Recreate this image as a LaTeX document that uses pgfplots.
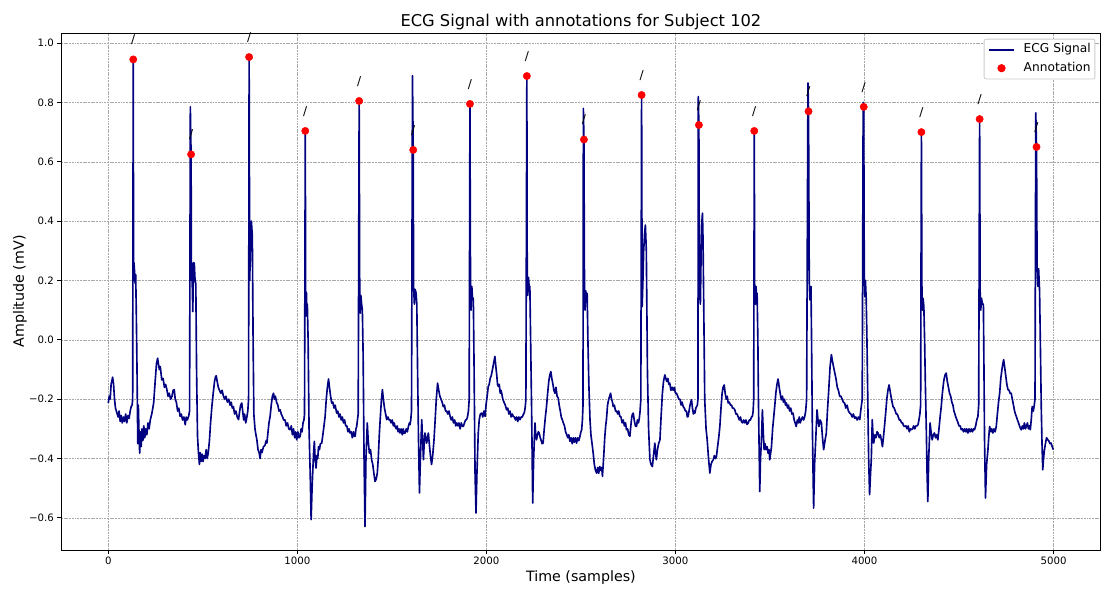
\documentclass[border=0pt]{standalone}
\usepackage{pgfplots}
\pgfplotsset{compat=1.18}
\usepackage{fontspec}
\setmainfont{DejaVu Sans}
\definecolor{navy}{RGB}{0,0,128}
\definecolor{gridgray}{RGB}{170,170,170}
\definecolor{legframe}{RGB}{204,204,204}
\pgfplotsset{
  mylinelegend/.style={legend image code/.code={\draw[##1] (0bp,0bp) -- (24.5bp,0bp); \path[draw=none, fill=none] (0bp,0bp) -- (34bp,0bp);}},
  mydotlegend/.style={legend image code/.code={\path[##1, only marks] plot coordinates {(12.25bp,0bp)}; \path[draw=none, fill=none] (0bp,0bp) -- (34bp,0bp);}},
}
\begin{document}
\begin{tikzpicture}
\begin{axis}[
  at={(0,0)}, anchor=south west,
  scale only axis, width=14.143in, height=7.031in,
  xmin=-250, xmax=5250, ymin=-0.708, ymax=1.034,
  xtick={0,1000,2000,3000,4000,5000},
  xticklabels={0,1000,2000,3000,4000,5000},
  ytick={-0.6,-0.4,-0.2,0,0.2,0.4,0.6,0.8,1.0},
  yticklabels={−0.6,−0.4,−0.2,0.0,0.2,0.4,0.6,0.8,1.0},
  tick pos=left,
  tick align=outside, major tick length=3.5bp,
  every tick/.style={black, line width=0.8bp},
  tick label style={font=\fontsize{10}{12}\selectfont},
  axis line style={black, line width=0.8bp},
  grid=major,
  major grid style={gridgray, line width=0.5bp, dash pattern=on 1.85bp off 0.8bp},
  title={ECG Signal with annotations for Subject 102},
  title style={font=\fontsize{16}{19}\selectfont, at={(axis description cs:0.5,1)}, anchor=base, inner sep=0pt},
  xlabel={Time (samples)},
  xlabel style={font=\fontsize{14}{17}\selectfont, at={(axis description cs:0.5,0)}, anchor=north, yshift=-20.5bp, inner sep=0pt},
  ylabel={Amplitude (mV)},
  ylabel style={font=\fontsize{14}{17}\selectfont, at={(axis description cs:-0.0327,0.5)}, anchor=south, inner sep=0pt},
  legend style={at={(axis description cs:0.9947,0.989)}, anchor=north east, draw=legframe, line width=0.8bp, rounded corners=2bp, fill=white, font=\fontsize{12}{14}\selectfont, row sep=6bp, inner xsep=4bp, inner ysep=4.5bp, nodes={inner xsep=0bp, inner ysep=0bp, text height=9bp, text depth=3bp}},
  legend cell align=left,
  clip=false,
]
\addplot[navy, line width=1.6bp, line join=round, mylinelegend] coordinates {
(0,-0.213) (5,-0.19) (10,-0.20) (15,-0.15) (23,-0.126) (28,-0.15) (33,-0.20) (38,-0.23) (46,-0.247) (52,-0.26) (57,-0.24) (63,-0.275) (68,-0.255) (74,-0.28) (80,-0.26) (86,-0.275) (92,-0.25) (98,-0.28) (104,-0.255) (110,-0.265) (116,-0.24) (121,-0.225) (126,-0.22) (129,-0.2)
(132,0.945) (134,0.20) (136,0.26) (139,0.23) (142,0.19) (145,0.22) (148,0.10) (152,-0.10) (156,-0.35) (159,-0.22) (162,-0.30) (166,-0.382) (170,-0.31) (174,-0.36) (178,-0.30) (183,-0.34) (188,-0.29) (193,-0.33) (198,-0.30) (204,-0.32) (210,-0.28) (216,-0.30) (222,-0.27) (230,-0.25) (240,-0.213) (248,-0.14) (255,-0.08) (261,-0.062) (265,-0.08) (270,-0.10) (275,-0.09) (283,-0.135) (290,-0.13) (297,-0.16) (303,-0.15) (310,-0.168) (316,-0.19) (322,-0.18) (330,-0.20) (337,-0.19) (343,-0.17) (349,-0.168) (354,-0.20) (360,-0.21) (367,-0.24) (373,-0.23) (380,-0.258) (386,-0.25) (393,-0.27) (400,-0.26) (407,-0.286) (412,-0.26) (418,-0.27) (425,-0.258) (430,-0.24)
(434,0.785) (438,0.625) (440,0.20) (442,0.258) (447,0.095) (451,0.26) (455,0.258) (459,0.20) (463,0.19) (467,-0.10) (472,-0.325) (477,-0.38) (482,-0.42) (486,-0.38) (491,-0.41) (496,-0.385) (501,-0.41) (506,-0.39) (512,-0.40) (518,-0.37) (523,-0.40) (529,-0.38) (535,-0.34) (541,-0.28) (548,-0.225) (555,-0.18) (562,-0.14) (567,-0.125) (571,-0.121) (576,-0.14) (582,-0.16) (588,-0.17) (595,-0.18) (602,-0.17) (609,-0.19) (616,-0.20) (622,-0.19) (630,-0.21) (637,-0.20) (644,-0.22) (650,-0.21) (656,-0.23) (662,-0.225) (668,-0.25) (675,-0.24) (682,-0.26) (689,-0.269) (695,-0.24) (700,-0.22) (706,-0.213) (711,-0.24) (716,-0.27) (721,-0.25) (727,-0.28) (733,-0.26) (738,-0.24) (742,-0.20)
(745,0.953) (748,0.20) (752,0.30) (757,0.40) (762,0.35) (766,0.0) (770,-0.25) (776,-0.30) (781,-0.32) (786,-0.337) (792,-0.37) (798,-0.38) (803,-0.40) (808,-0.37) (813,-0.38) (821,-0.36) (829,-0.355) (835,-0.34) (839,-0.348) (845,-0.31) (850,-0.28) (856,-0.258) (862,-0.22) (868,-0.19) (874,-0.18) (879,-0.20) (884,-0.19) (890,-0.21) (897,-0.22) (903,-0.24) (909,-0.236) (915,-0.25) (922,-0.26) (928,-0.27) (935,-0.27) (941,-0.29) (948,-0.28) (955,-0.30) (962,-0.303) (968,-0.29) (974,-0.32) (980,-0.30) (986,-0.33) (991,-0.31) (997,-0.337) (1003,-0.31) (1009,-0.33) (1015,-0.325) (1020,-0.30) (1025,-0.31) (1030,-0.28) (1035,-0.27) (1038,-0.25)
(1042,0.704) (1044,0.17) (1046,0.08) (1048,0.16) (1050,0.11) (1053,0.12) (1057,0.0) (1062,-0.30) (1068,-0.45) (1073,-0.606) (1078,-0.50) (1082,-0.438) (1086,-0.38) (1090,-0.342) (1094,-0.40) (1099,-0.432) (1104,-0.39) (1108,-0.40) (1112,-0.36) (1117,-0.37) (1122,-0.35) (1129,-0.348) (1135,-0.32) (1141,-0.29) (1147,-0.258) (1153,-0.20) (1159,-0.16) (1165,-0.132) (1170,-0.16) (1176,-0.19) (1182,-0.213) (1188,-0.21) (1194,-0.23) (1200,-0.22) (1208,-0.247) (1214,-0.24) (1220,-0.26) (1226,-0.25) (1232,-0.27) (1238,-0.26) (1244,-0.28) (1250,-0.27) (1256,-0.29) (1262,-0.29) (1268,-0.31) (1274,-0.30) (1279,-0.314) (1285,-0.31) (1291,-0.33) (1297,-0.31) (1302,-0.325) (1306,-0.325) (1310,-0.30) (1314,-0.292) (1318,-0.27) (1322,-0.25)
(1327,0.805) (1330,0.16) (1333,0.09) (1336,0.15) (1340,0.12) (1344,0.10) (1348,-0.05) (1353,-0.404) (1358,-0.629) (1363,-0.40) (1370,-0.28) (1375,-0.34) (1381,-0.382) (1387,-0.37) (1393,-0.404) (1399,-0.42) (1405,-0.45) (1411,-0.477) (1417,-0.47) (1423,-0.449) (1428,-0.40) (1434,-0.314) (1440,-0.25) (1445,-0.20) (1450,-0.168) (1455,-0.20) (1461,-0.23) (1467,-0.25) (1473,-0.269) (1479,-0.26) (1485,-0.27) (1490,-0.269) (1496,-0.28) (1502,-0.27) (1508,-0.29) (1512,-0.28) (1517,-0.292) (1523,-0.30) (1528,-0.29) (1533,-0.31) (1538,-0.30) (1543,-0.314) (1549,-0.30) (1555,-0.32) (1560,-0.30) (1565,-0.315) (1570,-0.314) (1576,-0.30) (1582,-0.31) (1588,-0.29) (1593,-0.28) (1596,-0.286) (1600,-0.27) (1604,-0.24)
(1609,0.89) (1613,0.64) (1615,0.18) (1619,0.12) (1623,0.17) (1628,0.158) (1632,0.12) (1636,-0.10) (1641,-0.337) (1646,-0.516) (1651,-0.40) (1658,-0.269) (1663,-0.34) (1667,-0.404) (1671,-0.35) (1675,-0.314) (1680,-0.33) (1684,-0.348) (1689,-0.33) (1693,-0.314) (1698,-0.35) (1704,-0.39) (1710,-0.42) (1716,-0.39) (1723,-0.337) (1729,-0.27) (1735,-0.20) (1742,-0.146) (1748,-0.17) (1754,-0.19) (1760,-0.20) (1766,-0.21) (1772,-0.225) (1778,-0.22) (1784,-0.24) (1790,-0.24) (1796,-0.25) (1802,-0.24) (1808,-0.258) (1814,-0.27) (1820,-0.26) (1826,-0.28) (1832,-0.27) (1838,-0.29) (1843,-0.28) (1849,-0.29) (1855,-0.28) (1861,-0.30) (1867,-0.28) (1872,-0.29) (1878,-0.292) (1884,-0.28) (1890,-0.27) (1895,-0.269) (1900,-0.26) (1905,-0.24) (1909,-0.20)
(1913,0.795) (1916,0.20) (1919,0.10) (1923,0.18) (1927,0.135) (1931,0.14) (1935,-0.10) (1940,-0.449) (1945,-0.584) (1950,-0.45) (1957,-0.314) (1962,-0.27) (1968,-0.25) (1975,-0.247) (1981,-0.26) (1987,-0.24) (1993,-0.258) (1998,-0.22) (2004,-0.19) (2010,-0.157) (2015,-0.15) (2020,-0.13) (2026,-0.12) (2032,-0.10) (2038,-0.08) (2045,-0.056) (2050,-0.09) (2055,-0.12) (2059,-0.15) (2063,-0.157) (2068,-0.15) (2073,-0.18) (2077,-0.17) (2081,-0.18) (2087,-0.20) (2093,-0.21) (2100,-0.22) (2107,-0.236) (2113,-0.23) (2119,-0.25) (2125,-0.24) (2131,-0.26) (2137,-0.25) (2142,-0.258) (2148,-0.26) (2154,-0.27) (2160,-0.26) (2166,-0.275) (2172,-0.26) (2178,-0.269) (2184,-0.26) (2190,-0.26) (2196,-0.25) (2200,-0.247) (2205,-0.23) (2209,-0.20)
(2214,0.889) (2216,0.22) (2219,0.15) (2223,0.21) (2227,0.17) (2230,0.18) (2234,0.0) (2239,-0.225) (2245,-0.55) (2250,-0.40) (2257,-0.28) (2261,-0.32) (2265,-0.337) (2270,-0.32) (2275,-0.31) (2279,-0.314) (2285,-0.33) (2290,-0.34) (2295,-0.35) (2300,-0.348) (2306,-0.30) (2312,-0.26) (2318,-0.225) (2324,-0.18) (2330,-0.14) (2335,-0.12) (2341,-0.107) (2346,-0.13) (2352,-0.15) (2357,-0.17) (2363,-0.18) (2368,-0.16) (2374,-0.19) (2380,-0.196) (2385,-0.22) (2391,-0.24) (2396,-0.26) (2402,-0.27) (2407,-0.28) (2413,-0.29) (2419,-0.31) (2425,-0.32) (2431,-0.33) (2436,-0.32) (2442,-0.342) (2448,-0.33) (2454,-0.35) (2460,-0.33) (2465,-0.345) (2471,-0.33) (2477,-0.348) (2483,-0.33) (2489,-0.34) (2495,-0.325) (2500,-0.31) (2504,-0.303) (2508,-0.27) (2511,-0.22)
(2513,0.78) (2516,0.675) (2519,0.17) (2522,0.10) (2526,0.165) (2530,0.13) (2533,0.157) (2537,0.0) (2542,-0.15) (2548,-0.269) (2553,-0.32) (2559,-0.35) (2565,-0.382) (2571,-0.42) (2577,-0.44) (2583,-0.449) (2589,-0.43) (2594,-0.45) (2600,-0.427) (2605,-0.44) (2610,-0.43) (2614,-0.46) (2620,-0.40) (2626,-0.33) (2631,-0.29) (2635,-0.269) (2641,-0.22) (2647,-0.20) (2652,-0.19) (2657,-0.18) (2662,-0.20) (2667,-0.21) (2671,-0.225) (2677,-0.22) (2683,-0.24) (2689,-0.24) (2695,-0.25) (2700,-0.24) (2706,-0.258) (2712,-0.26) (2718,-0.28) (2724,-0.27) (2730,-0.29) (2736,-0.28) (2741,-0.303) (2747,-0.30) (2753,-0.32) (2759,-0.325) (2764,-0.29) (2769,-0.26) (2773,-0.25) (2777,-0.247) (2782,-0.27) (2788,-0.29) (2794,-0.292) (2799,-0.27) (2804,-0.28) (2808,-0.269) (2813,-0.24) (2817,-0.20)
(2821,0.825) (2824,0.112) (2828,0.20) (2832,0.30) (2837,0.36) (2841,0.387) (2846,0.30) (2852,-0.112) (2858,-0.30) (2865,-0.404) (2871,-0.42) (2878,-0.427) (2884,-0.39) (2891,-0.348) (2895,-0.38) (2899,-0.404) (2905,-0.37) (2911,-0.35) (2918,-0.337) (2924,-0.26) (2931,-0.18) (2937,-0.14) (2944,-0.118) (2949,-0.13) (2954,-0.14) (2960,-0.13) (2965,-0.15) (2970,-0.146) (2976,-0.17) (2982,-0.16) (2988,-0.17) (2994,-0.16) (3000,-0.18) (3006,-0.18) (3012,-0.19) (3018,-0.20) (3024,-0.20) (3030,-0.22) (3035,-0.21) (3041,-0.225) (3047,-0.23) (3053,-0.24) (3058,-0.24) (3063,-0.26) (3067,-0.258) (3072,-0.24) (3077,-0.22) (3081,-0.21) (3085,-0.202) (3090,-0.23) (3095,-0.25) (3099,-0.24) (3103,-0.247) (3108,-0.23) (3112,-0.225) (3116,-0.22) (3119,-0.20)
(3121,0.82) (3124,0.724) (3127,0.15) (3129,0.146) (3132,0.12) (3136,0.30) (3140,0.40) (3143,0.427) (3146,0.337) (3150,0.10) (3155,-0.202) (3162,-0.30) (3168,-0.337) (3175,-0.40) (3182,-0.449) (3188,-0.42) (3194,-0.41) (3200,-0.404) (3206,-0.39) (3212,-0.40) (3217,-0.393) (3223,-0.36) (3229,-0.33) (3235,-0.292) (3241,-0.23) (3247,-0.18) (3252,-0.16) (3258,-0.152) (3263,-0.18) (3269,-0.20) (3274,-0.19) (3279,-0.213) (3285,-0.21) (3291,-0.22) (3297,-0.22) (3302,-0.23) (3308,-0.23) (3314,-0.236) (3320,-0.25) (3326,-0.25) (3332,-0.26) (3338,-0.27) (3344,-0.26) (3349,-0.275) (3355,-0.28) (3361,-0.27) (3367,-0.28) (3373,-0.27) (3379,-0.285) (3385,-0.28) (3391,-0.27) (3397,-0.27) (3402,-0.26) (3407,-0.258) (3411,-0.24) (3414,-0.20)
(3417,0.704) (3419,0.19) (3422,0.12) (3426,0.18) (3429,0.15) (3432,0.157) (3436,0.0) (3439,-0.20) (3442,-0.337) (3446,-0.511) (3450,-0.40) (3455,-0.337) (3460,-0.236) (3464,-0.30) (3469,-0.37) (3474,-0.35) (3479,-0.37) (3485,-0.36) (3490,-0.382) (3495,-0.37) (3499,-0.404) (3504,-0.38) (3508,-0.36) (3514,-0.30) (3520,-0.26) (3525,-0.225) (3531,-0.18) (3537,-0.15) (3543,-0.132) (3549,-0.16) (3554,-0.18) (3560,-0.202) (3566,-0.19) (3571,-0.21) (3577,-0.20) (3582,-0.22) (3587,-0.213) (3593,-0.23) (3598,-0.22) (3604,-0.24) (3610,-0.23) (3616,-0.25) (3622,-0.247) (3628,-0.27) (3633,-0.28) (3639,-0.292) (3645,-0.27) (3650,-0.28) (3655,-0.26) (3660,-0.28) (3666,-0.269) (3672,-0.26) (3678,-0.27) (3684,-0.258) (3689,-0.24) (3694,-0.20)
(3701,0.866) (3704,0.770) (3708,0.19) (3711,0.135) (3714,0.14) (3717,0.18) (3720,0.0) (3724,-0.28) (3728,-0.45) (3731,-0.567) (3736,-0.42) (3742,-0.337) (3749,-0.236) (3754,-0.27) (3759,-0.292) (3765,-0.27) (3772,-0.28) (3778,-0.33) (3784,-0.37) (3791,-0.34) (3798,-0.314) (3804,-0.24) (3811,-0.168) (3818,-0.09) (3825,-0.05) (3830,-0.07) (3836,-0.09) (3843,-0.112) (3849,-0.13) (3856,-0.16) (3862,-0.17) (3869,-0.19) (3875,-0.19) (3882,-0.20) (3888,-0.21) (3895,-0.213) (3901,-0.23) (3908,-0.22) (3915,-0.24) (3922,-0.247) (3928,-0.25) (3935,-0.26) (3941,-0.25) (3948,-0.264) (3954,-0.26) (3961,-0.27) (3968,-0.26) (3975,-0.269) (3980,-0.24) (3983,-0.225) (3988,-0.20)
(3993,0.80) (3996,0.785) (3999,0.21) (4002,0.146) (4005,0.20) (4009,0.14) (4013,0.0) (4018,-0.225) (4022,-0.40) (4027,-0.522) (4032,-0.45) (4036,-0.404) (4041,-0.269) (4045,-0.32) (4049,-0.348) (4055,-0.32) (4061,-0.33) (4066,-0.31) (4072,-0.314) (4078,-0.33) (4084,-0.32) (4090,-0.34) (4095,-0.36) (4100,-0.33) (4106,-0.29) (4112,-0.247) (4118,-0.20) (4124,-0.17) (4130,-0.152) (4135,-0.17) (4140,-0.19) (4146,-0.21) (4151,-0.225) (4157,-0.23) (4163,-0.24) (4168,-0.25) (4173,-0.25) (4178,-0.258) (4184,-0.27) (4190,-0.27) (4196,-0.28) (4202,-0.28) (4207,-0.29) (4213,-0.292) (4219,-0.29) (4225,-0.30) (4231,-0.29) (4237,-0.31) (4242,-0.30) (4248,-0.303) (4254,-0.30) (4260,-0.29) (4266,-0.30) (4272,-0.29) (4278,-0.29) (4283,-0.286) (4288,-0.27) (4293,-0.25) (4297,-0.22)
(4301,0.70) (4304,0.146) (4307,0.10) (4310,0.14) (4314,0.112) (4318,0.0) (4322,-0.15) (4327,-0.303) (4331,-0.45) (4335,-0.545) (4340,-0.393) (4347,-0.28) (4352,-0.31) (4358,-0.337) (4364,-0.32) (4370,-0.314) (4376,-0.33) (4382,-0.32) (4388,-0.337) (4394,-0.30) (4400,-0.26) (4406,-0.225) (4412,-0.18) (4419,-0.14) (4425,-0.12) (4432,-0.112) (4438,-0.14) (4444,-0.16) (4450,-0.18) (4456,-0.19) (4462,-0.21) (4468,-0.22) (4473,-0.24) (4477,-0.247) (4483,-0.26) (4489,-0.27) (4495,-0.28) (4500,-0.29) (4506,-0.29) (4512,-0.303) (4518,-0.30) (4524,-0.31) (4530,-0.30) (4536,-0.31) (4541,-0.30) (4547,-0.314) (4553,-0.30) (4559,-0.31) (4565,-0.30) (4571,-0.31) (4577,-0.30) (4582,-0.303) (4588,-0.29) (4594,-0.27) (4600,-0.258) (4604,-0.22)
(4609,0.744) (4612,0.146) (4615,0.10) (4619,0.14) (4624,0.12) (4629,0.12) (4632,-0.10) (4635,-0.337) (4640,-0.533) (4646,-0.42) (4653,-0.37) (4657,-0.33) (4662,-0.292) (4668,-0.31) (4673,-0.30) (4679,-0.314) (4685,-0.30) (4691,-0.31) (4697,-0.292) (4703,-0.25) (4709,-0.21) (4715,-0.18) (4721,-0.13) (4727,-0.10) (4732,-0.08) (4736,-0.067) (4741,-0.09) (4747,-0.12) (4753,-0.15) (4759,-0.168) (4765,-0.17) (4770,-0.18) (4776,-0.18) (4782,-0.20) (4788,-0.22) (4794,-0.24) (4798,-0.25) (4803,-0.258) (4809,-0.27) (4815,-0.28) (4820,-0.29) (4826,-0.30) (4829,-0.303) (4835,-0.29) (4840,-0.30) (4846,-0.28) (4851,-0.30) (4856,-0.292) (4862,-0.28) (4867,-0.30) (4872,-0.29) (4877,-0.303) (4882,-0.27) (4887,-0.225) (4893,-0.24) (4898,-0.22) (4902,-0.20)
(4906,0.765) (4910,0.65) (4913,0.247) (4917,0.18) (4921,0.24) (4926,0.168) (4930,0.0) (4935,-0.225) (4939,-0.35) (4943,-0.438) (4947,-0.40) (4952,-0.37) (4957,-0.35) (4963,-0.33) (4970,-0.337) (4975,-0.34) (4981,-0.35) (4987,-0.348) (4993,-0.36) (4999,-0.37)
};
\addlegendentry{ECG Signal}
\addplot[only marks, mark=*, mark size=3.6bp, mark options={fill=red, draw=red}, mydotlegend] coordinates {
(132,0.945) (438,0.625) (745,0.953) (1042,0.704) (1327,0.805) (1613,0.64) (1913,0.795) (2214,0.889) (2516,0.675) (2821,0.825) (3124,0.724) (3417,0.704) (3704,0.770) (3996,0.785) (4301,0.70) (4609,0.744) (4910,0.65)
};
\addlegendentry{Annotation}
\foreach \xx/\yy in {132/0.945, 438/0.625, 745/0.953, 1042/0.704, 1327/0.805, 1613/0.64, 1913/0.795, 2214/0.889, 2516/0.675, 2821/0.825, 3124/0.724, 3417/0.704, 3704/0.770, 3996/0.785, 4301/0.70, 4609/0.744, 4910/0.65} {
  \edef\temp{\noexpand\node[font=\noexpand\fontsize{12}{14}\noexpand\selectfont, anchor=base, inner sep=0pt] at (axis cs:\xx,\yy+0.053) {/};}
  \temp
}
\end{axis}
\pgfresetboundingbox
\useasboundingbox ([shift={(-0.83in,-0.52in)}]current axis.south west) rectangle ([shift={(0.03in,0.449in)}]current axis.north east);
\end{tikzpicture}
\end{document}
